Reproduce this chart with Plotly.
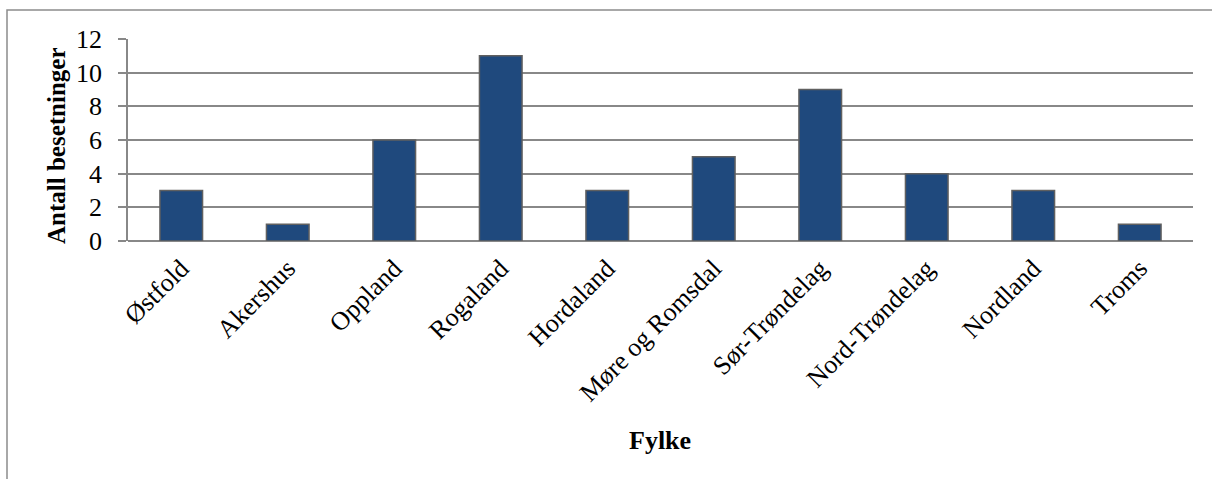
import plotly.graph_objects as go

# Antall besetninger per fylke
fylker = ["Østfold", "Akershus", "Oppland", "Rogaland", "Hordaland",
          "Møre og Romsdal", "Sør-Trøndelag", "Nord-Trøndelag", "Nordland", "Troms"]
antall = [3, 1, 6, 11, 3, 5, 9, 4, 3, 1]
y_ticks = [0, 2, 4, 6, 8, 10, 12]

W, H = 1212, 479
M_L, M_R, M_T, M_B = 128, 19, 39, 238
plot_w = W - M_L - M_R
plot_h = H - M_T - M_B

serif = "Liberation Serif, Times New Roman, serif"
grid_col = "#888888"

def px_x(p):
    return (p - M_L) / plot_w

def px_y(p):
    return (H - M_B - p) / plot_h

fig = go.Figure(
    go.Bar(
        x=fylker,
        y=antall,
        marker=dict(color="#1f497d", line=dict(color="#606060", width=1.5)),
        hoverinfo="x+y",
    )
)

fig.update_layout(
    width=W,
    height=H,
    margin=dict(l=M_L, r=M_R, t=M_T, b=M_B, pad=0),
    paper_bgcolor="white",
    plot_bgcolor="white",
    bargap=0.6,
    showlegend=False,
    font=dict(family=serif, size=26, color="black"),
    xaxis=dict(
        tickangle=-45,
        showgrid=False,
        showline=False,
        ticks="",
        tickfont=dict(family=serif, size=26),
        ticklabelstandoff=6,
    ),
    yaxis=dict(
        range=[0, 12],
        tickvals=y_ticks,
        showgrid=True,
        gridcolor=grid_col,
        gridwidth=1.5,
        zeroline=True,
        zerolinecolor=grid_col,
        zerolinewidth=2,
        showline=True,
        linecolor=grid_col,
        linewidth=1.5,
        ticks="outside",
        ticklen=8,
        tickwidth=1.5,
        tickcolor=grid_col,
        ticklabelstandoff=11,
        tickfont=dict(family=serif, size=26),
    ),
    annotations=[
        dict(text="<b>Antall besetninger</b>", textangle=-90,
             x=px_x(56), y=px_y(146), xref="paper", yref="paper",
             xanchor="center", yanchor="middle", showarrow=False,
             font=dict(family=serif, size=25)),
        dict(text="<b>Fylke</b>",
             x=px_x(660), y=px_y(440), xref="paper", yref="paper",
             xanchor="center", yanchor="middle", showarrow=False,
             font=dict(family=serif, size=26)),
    ],
    shapes=[
        dict(type="rect", xref="paper", yref="paper",
             x0=px_x(7), x1=px_x(1260), y0=px_y(520), y1=px_y(10),
             line=dict(color="#8c8c8c", width=1.5), layer="below"),
    ],
)

fig.write_html("out.html")
